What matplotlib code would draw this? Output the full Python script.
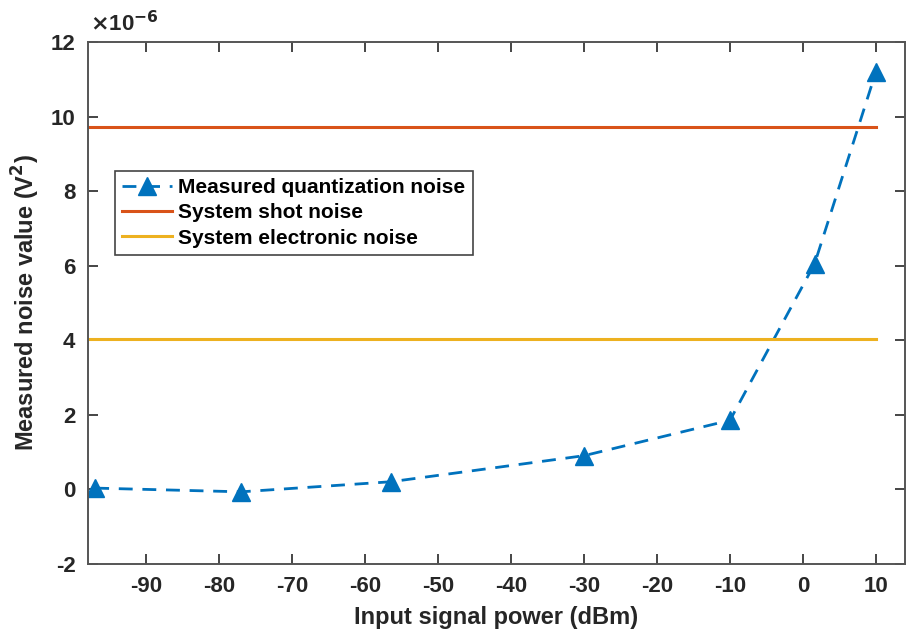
import matplotlib
matplotlib.use("Agg")
import matplotlib.pyplot as plt
from matplotlib.ticker import FuncFormatter

# valores (potencia en dBm, ruido en V^2)
potencia = [-97, -77, -56.5, -30, -10, 1.6, 10]
ruido_cuant = [0.03e-6, -0.07e-6, 0.2e-6, 0.9e-6, 1.85e-6, 6.05e-6, 11.2e-6]
ruido_shot = 9.72e-6
ruido_elec = 4.04e-6
x_ref = [-98, 10]   # extensión de las líneas horizontales
x_lim = [-98, 14]

plt.rcParams["font.family"] = ["Liberation Sans", "DejaVu Sans"]
plt.rcParams["font.weight"] = "bold"
plt.rcParams["mathtext.default"] = "bf"
plt.rcParams["axes.unicode_minus"] = False

fig = plt.figure(figsize=(9.06, 6.37), dpi=100)
ax = fig.add_axes([0.097, 0.115, 0.902, 0.819])

ax.plot(potencia, ruido_cuant, "--^", color="#0072BD", lw=2, ms=13,
        dashes=(5, 3.5), label="Measured quantization noise")
ax.plot(x_ref, [ruido_shot, ruido_shot], "-", color="#D95319", lw=2.2,
        label="System shot noise")
ax.plot(x_ref, [ruido_elec, ruido_elec], "-", color="#EDB120", lw=2.2,
        label="System electronic noise")

ax.set_xlim(x_lim)
ax.set_ylim(-2e-6, 12e-6)
ax.set_xticks(range(-90, 11, 10))
ax.set_yticks([v * 1e-6 for v in range(-2, 13, 2)])

# factor fijo x10^-6 como en el original (estilo MATLAB)
ax.yaxis.set_major_formatter(FuncFormatter(lambda v, _: f"{v * 1e6:g}"))
ax.text(0.003, 1.012, r"$\times$10$^{\mathbf{-6}}$", transform=ax.transAxes,
        ha="left", va="bottom", fontsize=16, color="#262626")

ax.tick_params(direction="in", top=True, right=True, labelsize=16,
               length=7, width=1.2, colors="#262626", pad=9)
for s in ax.spines.values():
    s.set_color("#555555")
    s.set_linewidth(1.4)

ax.set_xlabel("Input signal power (dBm)", fontsize=17, fontweight="bold",
              color="#262626", labelpad=6)
ax.set_ylabel("Measured noise value (V$^2$)", fontsize=17, fontweight="bold",
              color="#262626", labelpad=6)

leg = ax.legend(loc="upper left", bbox_to_anchor=(0.033, 0.753),
                borderaxespad=0, fontsize=15, fancybox=False, framealpha=1,
                borderpad=0.35, handlelength=2.4, handletextpad=0.3,
                labelspacing=0.3, markerscale=1.0)
leg.get_frame().set_edgecolor("#444444")
leg.get_frame().set_linewidth(1.2)

fig.savefig("out.png", dpi=100)
